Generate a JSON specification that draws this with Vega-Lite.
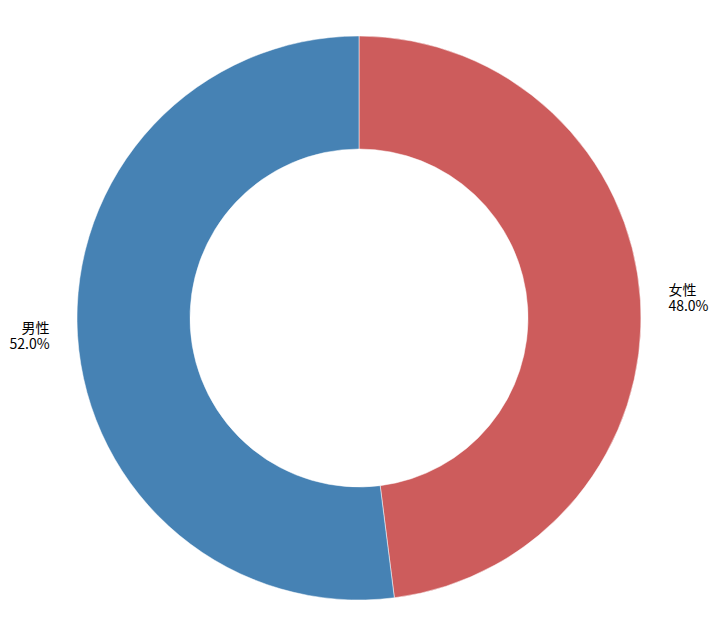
{
  "$schema": "https://vega.github.io/schema/vega-lite/v6.json",
  "width": 718,
  "height": 636,
  "autosize": {"type": "none"},
  "padding": 0,
  "background": "white",
  "view": {"stroke": null},
  "data": {
    "values": [
      {"gender": "女性", "value": 48.0, "rank": 1, "label": "女性\n48.0%", "side": "left"},
      {"gender": "男性", "value": 52.0, "rank": 2, "label": "男性\n52.0%", "side": "right"}
    ]
  },
  "encoding": {
    "theta": {"field": "value", "type": "quantitative", "stack": true},
    "order": {"field": "rank", "type": "quantitative"}
  },
  "layer": [
    {
      "mark": {"type": "arc", "radius": 282, "radius2": 169, "stroke": "white", "strokeWidth": 0.5},
      "encoding": {
        "color": {
          "field": "gender",
          "type": "nominal",
          "scale": {"domain": ["女性", "男性"], "range": ["#CD5C5C", "#4682B4"]},
          "legend": null
        }
      }
    },
    {
      "mark": {
        "type": "text",
        "radius": 310,
        "align": {"expr": "datum.side"},
        "baseline": "middle",
        "dy": -8,
        "lineBreak": "\n",
        "lineHeight": 16,
        "font": "Noto Sans CJK SC",
        "fontSize": 14,
        "color": "#000000"
      },
      "encoding": {
        "text": {"field": "label", "type": "nominal"}
      }
    }
  ]
}
